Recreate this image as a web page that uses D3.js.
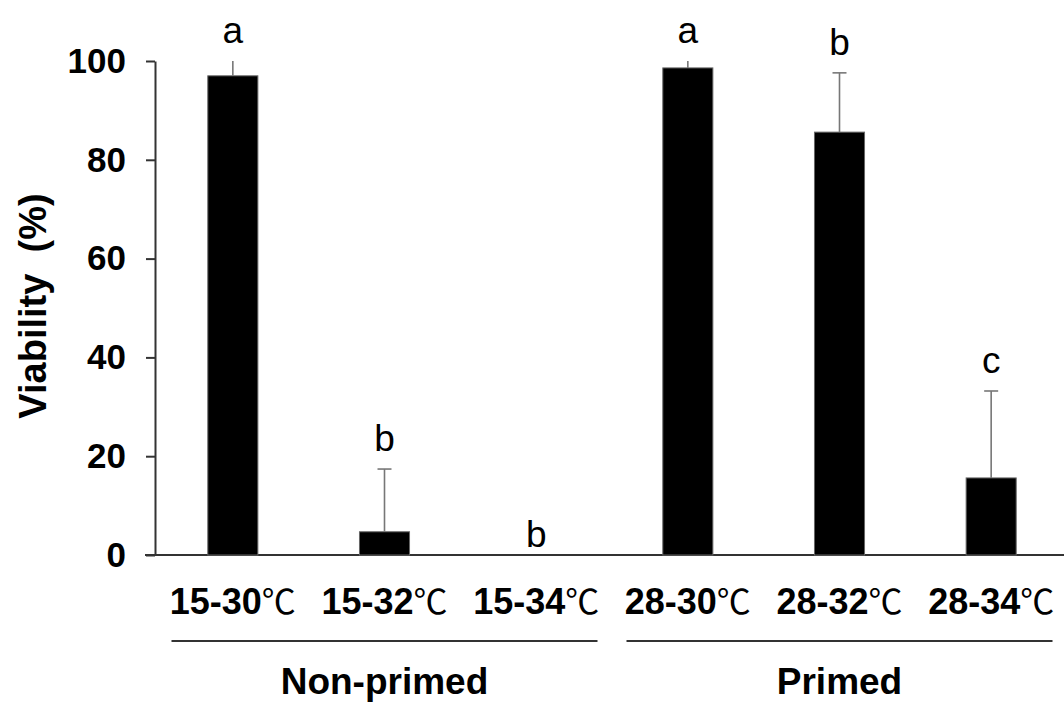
<!DOCTYPE html>
<html>
<head>
<meta charset="utf-8">
<script src="https://cdn.jsdelivr.net/npm/d3@7"></script>
<style>
  body { margin: 0; background: #fff; }
  text { font-family: "Liberation Sans", Arial, sans-serif; }
</style>
</head>
<body>
<div id="chart"></div>
<script>
// data
const categories = ["15-30", "15-32", "15-34", "28-30", "28-32", "28-34"];
const viability = [97.0, 4.7, 0, 98.6, 85.6, 15.6];
const errors = [3.5, 12.7, 0, 2.5, 12.0, 17.6];
const letters = ["a", "b", "b", "a", "b", "c"];
const groups = ["Non-primed", "Primed"];
const groupOf = [0, 0, 0, 1, 1, 1];
const yTicks = [0, 20, 40, 60, 80, 100];

const width = 1064, height = 704;

const svg = d3.select("#chart").append("svg")
  .attr("width", width)
  .attr("height", height);

const x = d3.scaleBand()
  .domain(categories)
  .range([157, 1067])
  .paddingInner(0.67)
  .paddingOuter(0.335);

const y = d3.scaleLinear().domain([0, 100]).range([555, 61]);

// y axis
const yAxis = svg.append("g")
  .attr("transform", "translate(155,0)")
  .call(d3.axisLeft(y).tickValues(yTicks).tickSize(9).tickPadding(20).tickSizeOuter(0));
yAxis.select(".domain").attr("stroke", "#333").attr("stroke-width", 2);
yAxis.selectAll(".tick line").attr("stroke", "#333").attr("stroke-width", 2);
yAxis.selectAll(".tick text")
  .attr("fill", "#000")
  .style("font-size", "35px")
  .style("font-weight", "bold")
  .style("font-family", "'Liberation Sans', Arial, sans-serif");

// x axis baseline
svg.append("line")
  .attr("x1", 145).attr("x2", width)
  .attr("y1", y(0)).attr("y2", y(0))
  .attr("stroke", "#333").attr("stroke-width", 2);

const rows = categories.map((c, i) => ({
  cat: c, v: viability[i], e: errors[i], letter: letters[i]
}));

// bars
svg.append("g").selectAll("rect")
  .data(rows)
  .enter()
  .append("rect")
  .attr("x", d => x(d.cat))
  .attr("y", d => y(d.v))
  .attr("width", x.bandwidth())
  .attr("height", d => y(0) - y(d.v))
  .attr("fill", "#000")
  .attr("stroke", "#666")
  .attr("stroke-width", 1);

// error bars (clipped at the axis top, like the original)
const errG = svg.append("g").selectAll("g")
  .data(rows.filter(d => d.e > 0))
  .enter()
  .append("g");

errG.append("line")
  .attr("x1", d => x(d.cat) + x.bandwidth() / 2)
  .attr("x2", d => x(d.cat) + x.bandwidth() / 2)
  .attr("y1", d => y(d.v))
  .attr("y2", d => y(Math.min(d.v + d.e, 100)))
  .attr("stroke", "#777")
  .attr("stroke-width", 1.6);

errG.filter(d => d.v + d.e <= 100)
  .append("line")
  .attr("x1", d => x(d.cat) + x.bandwidth() / 2 - 7)
  .attr("x2", d => x(d.cat) + x.bandwidth() / 2 + 7)
  .attr("y1", d => y(d.v + d.e))
  .attr("y2", d => y(d.v + d.e))
  .attr("stroke", "#777")
  .attr("stroke-width", 1.6);

// significance letters
svg.append("g").selectAll("text")
  .data(rows)
  .enter()
  .append("text")
  .attr("x", d => x(d.cat) + x.bandwidth() / 2)
  .attr("y", d => y(Math.min(d.v + d.e, 100)) - (d.e > 0 ? 18 : 8))
  .attr("text-anchor", "middle")
  .style("font-size", "37px")
  .text(d => d.letter);

// category labels
const catLabels = svg.append("g").selectAll("text")
  .data(categories)
  .enter()
  .append("text")
  .attr("x", d => x(d) + x.bandwidth() / 2)
  .attr("y", 614)
  .attr("text-anchor", "middle")
  .style("font-size", "36px");
catLabels.append("tspan")
  .style("font-weight", "bold")
  .text(d => d);
catLabels.append("tspan")
  .style("font-family", "'Noto Sans CJK SC', sans-serif")
  .style("font-weight", "normal")
  .style("font-size", "34px")
  .text("\u2103");

// group lines and names
const groupCenter = groups.map((g, gi) => {
  const cs = categories.filter((c, i) => groupOf[i] === gi);
  return (x(cs[0]) + x(cs[cs.length - 1]) + x.bandwidth()) / 2;
});

svg.append("g").selectAll("line")
  .data(groups)
  .enter()
  .append("line")
  .attr("x1", (d, i) => groupCenter[i] - 213)
  .attr("x2", (d, i) => groupCenter[i] + 213)
  .attr("y1", 641).attr("y2", 641)
  .attr("stroke", "#333").attr("stroke-width", 2);

svg.append("g").selectAll("text")
  .data(groups)
  .enter()
  .append("text")
  .attr("x", (d, i) => groupCenter[i])
  .attr("y", 694)
  .attr("text-anchor", "middle")
  .style("font-size", "37px")
  .style("font-weight", "bold")
  .text(d => d);

// y axis title
svg.append("text")
  .attr("transform", "translate(46,306) rotate(-90)")
  .attr("text-anchor", "middle")
  .style("font-size", "38px")
  .style("font-weight", "bold")
  .style("white-space", "pre")
  .attr("xml:space", "preserve")
  .text("Viability  (%)");
</script>
</body>
</html>
